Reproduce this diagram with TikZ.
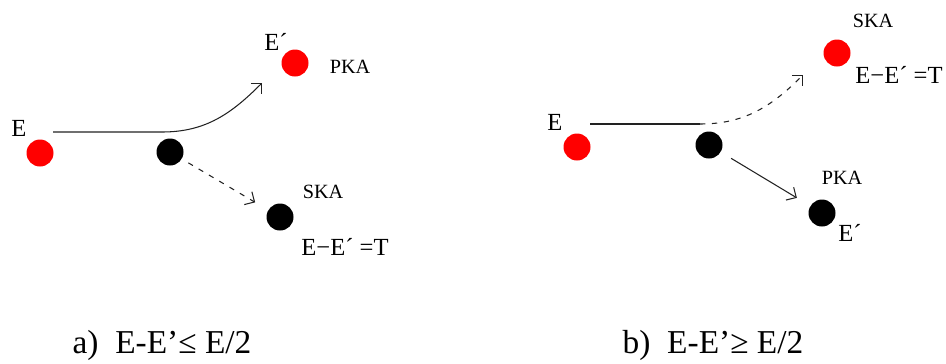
\documentclass[tikz,border=0pt]{standalone}
\usepackage{fontspec}
\setmainfont{Liberation Serif}
\usetikzlibrary{arrows.meta}
\definecolor{ionRed}{HTML}{FF0000}
\definecolor{beamGray}{HTML}{222222}

\begin{document}
\begin{tikzpicture}[
  font=\fontsize{14}{16}\selectfont,>={Straight Barb[angle=90:6pt]},
  ion/.style={circle,fill=ionRed,minimum size=0.54cm,inner sep=0pt},
  lattice/.style={circle,fill=black,minimum size=0.54cm,inner sep=0pt},
  lbl/.style={inner sep=0pt},
  small/.style={inner sep=0pt,font=\fontsize{11.5}{13}\selectfont},
  caption/.style={inner sep=0pt,font=\fontsize{19}{21}\selectfont},
  beam/.style={line width=.6pt,draw=beamGray},
  recoil/.style={->,line width=.6pt,draw=beamGray},
  knock/.style={->,line width=.6pt,draw=beamGray,dash pattern=on 3pt off 3.8pt}
]
\useasboundingbox (0,0) rectangle (18.92,7.26);
% Left: the incoming ion keeps most of its energy; right: it hands most of it on.
\node[ion] (inL) at (0.80,4.20) {};
\node[lbl] (inLlbl) at (0.38,4.70) {E};
\node[lattice] (hitL) at (3.40,4.22) {};
\node[ion] (pkaL) at (5.90,6.00) {};
\node[lbl] (pkaLe) at (5.52,6.42) {E´};
\node[small] (pkaLlbl) at (7.00,5.92) {PKA};
\node[lattice] (skaL) at (5.60,2.92) {};
\node[small] (skaLlbl) at (6.46,3.42) {SKA};
\node[lbl] (skaLe) at (6.90,2.32) {E−E´ =T};
\coordinate (startL) at (1.06,4.62);
\coordinate (bendL) at (3.24,4.62);
\coordinate (tipL) at (5.24,5.60);
\draw[recoil] (startL) -- (bendL) to[out=0,in=-135] (tipL);
\draw[knock,shorten <=0.15cm,shorten >=0.30cm] (hitL) -- (skaL);
\node[ion] (inR) at (11.54,4.32) {};
\node[lbl] (inRlbl) at (11.10,4.82) {E};
\node[lattice] (hitR) at (14.18,4.36) {};
\node[ion] (skaR) at (16.74,6.20) {};
\node[small] (skaRlbl) at (17.46,6.84) {SKA};
\node[lbl,anchor=west] (skaRe) at (17.10,5.76) {E−E´ =T};
\node[lattice] (pkaR) at (16.44,3.00) {};
\node[small] (pkaRlbl) at (16.84,3.70) {PKA};
\node[lbl] (pkaRe) at (17.00,2.60) {E´};
\coordinate (startR) at (11.80,4.78);
\coordinate (bendR) at (14.00,4.78);
\coordinate (tipR) at (16.06,5.76);
\draw[beam] (startR) -- (bendR);
\draw[knock] (bendR) to[out=0,in=-135] (tipR);
\draw[recoil,shorten <=0.24cm,shorten >=0.31cm] (hitR) -- (pkaR);
\node[caption] (capA) at (3.24,0.36) {a)\ \ E-E’≤ E/2};
\node[caption] (capB) at (14.26,0.36) {b)\ \ E-E’≥ E/2};
\end{tikzpicture}
\end{document}
